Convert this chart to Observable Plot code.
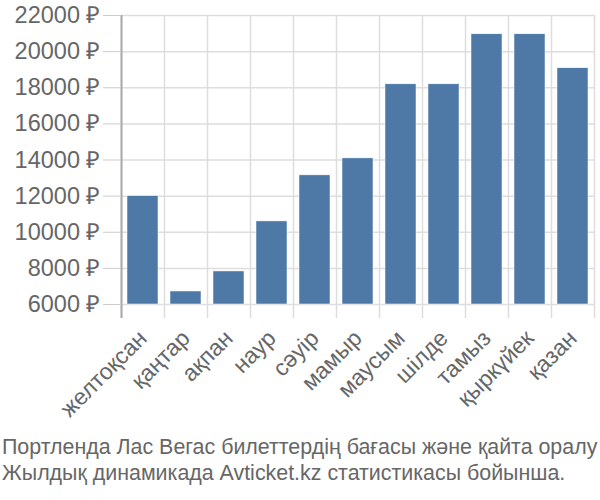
<!DOCTYPE html>
<html>
<head>
<meta charset="utf-8">
<script src="https://cdn.jsdelivr.net/npm/d3@7"></script>
<script src="https://cdn.jsdelivr.net/npm/@observablehq/plot@0.6"></script>
<style>
  body { margin: 0; background: #fff; }
  #chart { width: 600px; }
  .caption { font-family: "Liberation Sans", Arial, sans-serif; font-size: 21.4px; color: #666; line-height: 26px; margin: 4px 0 0 2px; white-space: nowrap; }
</style>
</head>
<body>
<div id="chart"></div>
<script>
const months = ["желтоқсан", "қаңтар", "ақпан", "наур", "сәуір", "мамыр", "маусым", "шілде", "тамыз", "қыркүйек", "қазан"];
const prices = [12000, 6720, 7830, 10600, 13150, 14090, 18190, 18190, 20960, 20960, 19080];
const yTicks = [6000, 8000, 10000, 12000, 14000, 16000, 18000, 20000, 22000];
const captionLines = [
  "Портленда Лас Вегас билеттердің бағасы және қайта оралу",
  "Жылдық динамикада Avticket.kz статистикасы бойынша."
];

const data = months.map((m, i) => ({month: m, price: prices[i]}));

const W = 600, H = 430;
const mL = 121, mR = 6, mT = 15, mB = 112;
const step = (W - mL - mR) / months.length;

const plot = Plot.plot({
  width: W,
  height: H,
  marginLeft: mL,
  marginRight: mR,
  marginTop: mT,
  marginBottom: mB,
  style: {fontFamily: "Liberation Sans, Arial, sans-serif", fontSize: "20px", color: "#666", background: "#fff"},
  x: {domain: months, paddingInner: 0.28, paddingOuter: 0.14, label: null},
  y: {domain: [6000, 22000], range: [304, 15], label: null},
  marks: [
    Plot.gridY(yTicks, {stroke: "#ddd", strokeOpacity: 1, strokeWidth: 1.5}),
    Plot.ruleX(months, {x: d => d, dx: -step / 2, stroke: "#ddd", strokeWidth: 1.5}),
    Plot.ruleX([months[months.length - 1]], {x: d => d, dx: step / 2, stroke: "#ddd", strokeWidth: 1.5}),
    Plot.barY(data, {x: "month", y1: 6000, y2: "price", fill: "#4e79a7", stroke: "#fff", strokeWidth: 0.5}),
    Plot.ruleX([months[0]], {x: d => d, dx: -step / 2, stroke: "#aaa", strokeWidth: 2}),
    Plot.axisY(yTicks, {tickFormat: d => d + " ₽", tickSize: 18, tickPadding: 3, stroke: "#ccc", fill: "#666", fontSize: 23.5}),
    Plot.axisX(months, {tickSize: 0, tickRotate: -45, tickPadding: 16, fill: "#666", fontSize: 23})
  ]
});
document.getElementById("chart").appendChild(plot);

const cap = document.createElement("div");
cap.className = "caption";
cap.innerHTML = captionLines.map(l => `<div>${l}</div>`).join("");
document.getElementById("chart").appendChild(cap);
</script>
</body>
</html>
